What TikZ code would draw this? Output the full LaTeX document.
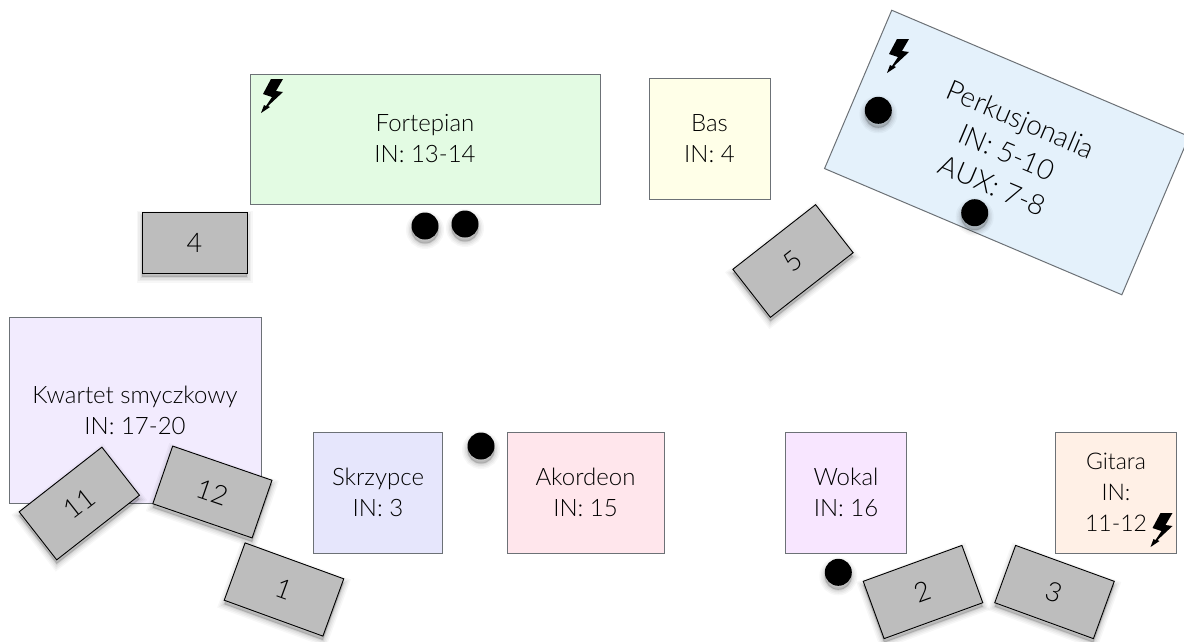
\documentclass[tikz,border=0pt]{standalone}
\usepackage{fontspec}
\setmainfont{Lato}[UprightFont=* Light]
\usepackage{xcolor}
\usetikzlibrary{positioning}
\definecolor{colpiano}{HTML}{E3FBE3}
\definecolor{colbass}{HTML}{FFFFE8}
\definecolor{colperc}{HTML}{E4F1FB}
\definecolor{colquart}{HTML}{F2EBFE}
\definecolor{colviolin}{HTML}{E6E6FC}
\definecolor{colaccord}{HTML}{FFE6EC}
\definecolor{colvocal}{HTML}{F8E6FF}
\definecolor{colguitar}{HTML}{FFF0E6}
\definecolor{colwedge}{HTML}{BDBDBD}
\definecolor{coledge}{HTML}{6C7176}

\begin{document}
\begin{tikzpicture}[
  x=1pt, y=-1pt,
  softshadow/.style={
    preaction={draw=black, fill=black, opacity=.03, line width=11pt, transform canvas={yshift=-4pt}},
    preaction={draw=black, fill=black, opacity=.04, line width=8pt, transform canvas={yshift=-4pt}},
    preaction={draw=black, fill=black, opacity=.05, line width=5pt, transform canvas={yshift=-4pt}},
    preaction={draw=black, fill=black, opacity=.07, line width=2pt, transform canvas={yshift=-4pt}}},
  inst/.style={draw=coledge, line width=1pt, inner sep=0pt, align=center,
               font=\fontsize{24}{31}\selectfont},
  wedge/.style={draw=black, line width=.9pt, fill=colwedge, inner sep=0pt, softshadow,
                minimum width=105pt, minimum height=61pt,
                font=\fontsize{27}{30}\selectfont},
  mic/.style={circle, fill=black, inner sep=0pt, minimum size=27pt, softshadow},
  bolt/.pic={
    \fill[black] (-1,-17) -- (11,-17) -- (4,-5) -- (11,-4) -- (-4,10) -- (-2,11)
      -- (-11,17) -- (-8,9) -- (-6,10) -- (0,1) -- (-9,-2) -- cycle;
  }
]
  \useasboundingbox (0,0) rectangle (1184,641);
  % instruments
  \node[inst, fill=colpiano, minimum width=350pt, minimum height=130pt] (piano) at (425,139) {Fortepian\\IN: 13-14};
  \node[inst, fill=colbass, minimum width=121pt, minimum height=121pt] (bass) at (709.5,138.5) {Bas\\IN: 4};
  \node[inst, fill=colperc, minimum width=323pt, minimum height=172pt, rotate=-23,
        font=\fontsize{28}{36}\selectfont] (perc) at (1006.8,152.5) {Perkusjonalia\\IN: 5-10\\AUX: 7-8};
  \node[inst, fill=colquart, minimum width=252pt, minimum height=186pt] (quartet) at (135,410) {Kwartet smyczkowy\\IN: 17-20};
  \node[inst, fill=colviolin, minimum width=129pt, minimum height=121pt] (violin) at (378,492.5) {Skrzypce\\IN: 3};
  \node[inst, fill=colaccord, minimum width=157pt, minimum height=121pt] (accord) at (585.5,492.5) {Akordeon\\IN: 15};
  \node[inst, fill=colvocal, minimum width=121pt, minimum height=121pt] (vocal) at (846,492.5) {Wokal\\IN: 16};
  \node[inst, fill=colguitar, minimum width=121pt, minimum height=121pt,
        font=\fontsize{23}{31}\selectfont] (guitar) at (1116,492.5) {Gitara\\IN:\\11-12};
  % monitors
  \node[wedge] (mon4) at (194.5,242.5) {4};
  \node[wedge, rotate=38] (mon5) at (793,261) {5};
  \node[wedge, rotate=38] (mon11) at (79.3,503.5) {11};
  \node[wedge, rotate=-19] (mon12) at (212.4,492) {12};
  \node[wedge, rotate=-20] (mon1) at (284,589.5) {1};
  \node[wedge, rotate=20] (mon2) at (923,592) {2};
  \node[wedge, rotate=-20] (mon3) at (1054.5,592) {3};
  % microphones
  \node[mic] (micpianol) at (425,226) {};
  \node[mic] (micpianor) at (465,224) {};
  \node[mic] (micperca) at (878.3,110.3) {};
  \node[mic] (micpercb) at (974.7,212.7) {};
  \node[mic] (micviolin) at (481,446) {};
  \node[mic] (micvocal) at (838.3,572.3) {};
  % power
  \pic at (272,96) {bolt};
  \pic at (898,56) {bolt};
  \pic at (1161.5,530) {bolt};
\end{tikzpicture}
\end{document}
